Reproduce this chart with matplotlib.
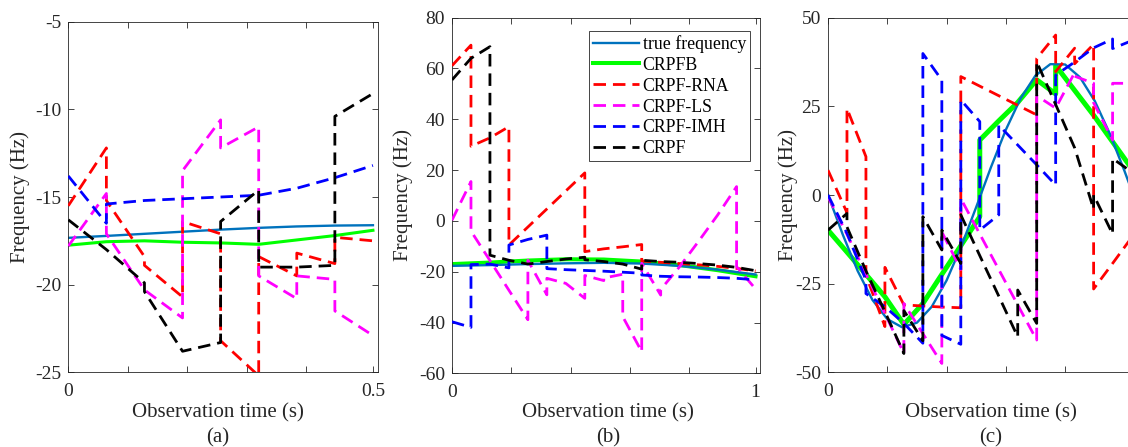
import matplotlib
matplotlib.use("Agg")
import matplotlib.pyplot as plt

plt.rcParams['font.family'] = ['Liberation Serif', 'DejaVu Serif']
plt.rcParams['axes.unicode_minus'] = False

SEG = 0.064  # length of one estimation block (s)

# ---------------- panel (a) ----------------
a_true_t = [0, 0.064, 0.128, 0.192, 0.256, 0.32, 0.384, 0.448, 0.512]
a_true_f = [-17.33, -17.22, -17.1, -16.98, -16.86, -16.76, -16.68, -16.63, -16.61]
a_crpfb_f = [-17.75, -17.55, -17.5, -17.58, -17.62, -17.7, -17.45, -17.2, -16.9]
a_rna_start = [-15.5, -15.2, -18.9, -16.4, -23.2, -18.4, -18.2, -17.3]
a_rna_end = [-12.2, -18.4, -20.7, -17.1, -25.2, -19.5, -18.8, -17.5]
a_ls_start = [-17.8, -17.1, -20.3, -13.5, -12.2, -19.5, -19.5, -21.5]
a_ls_end = [-14.8, -20.3, -21.9, -10.6, -11.0, -20.8, -19.7, -22.9]
a_imh_start = [-13.8, -15.4, -15.2, -15.1, -15.0, -14.9, -14.5, -13.9]
a_imh_end = [-16.5, -15.2, -15.1, -15.0, -14.9, -14.5, -13.9, -13.2]
a_crpf_start = [-16.3, -18.0, -20.4, -23.8, -16.4, -19.0, -19.0, -10.4]
a_crpf_end = [-18.0, -19.9, -23.8, -23.3, -14.6, -19.0, -18.9, -9.1]

# ---------------- panel (b) ----------------
b_true_t = [0, 0.128, 0.256, 0.384, 0.512, 0.64, 0.768, 0.896, 1.024]
b_true_f = [-17.7, -17.4, -17.0, -16.7, -16.5, -16.8, -17.7, -19.2, -21.1]
b_crpfb_f = [-17.0, -16.4, -15.6, -15.1, -15.2, -16.0, -17.4, -19.4, -21.8]
b_rna_start = [61.1, 29.4, 32.7, -9.5, -2.4, 4.7, 11.8, -12.1, -11.0, -10.2,
               -15.8, -16.3, -16.8, -17.3, -17.9, -18.7]
b_rna_end = [69.2, 32.7, 37.1, -2.4, 4.7, 11.8, 18.9, -11.0, -10.2, -9.3,
             -16.3, -16.8, -17.3, -17.9, -18.7, -19.7]
b_ls_start = [0.3, -4.0, -15.6, -27.3, -15.5, -22.6, -24.6, -21.5, -22.5, -37.7,
              -16.7, -27.0, -18.0, -8.0, 2.3, -18.0]
b_ls_end = [15.5, -15.6, -27.3, -38.9, -29.1, -24.6, -30.5, -23.5, -21.0, -51.5,
            -29.2, -18.0, -8.0, 2.3, 13.5, -26.8]
b_imh_start = [-39.7, -17.2, -17.0, -9.5, -7.3, -18.8, -19.2, -19.5, -19.8, -20.2,
               -21.3, -21.8, -22.0, -22.1, -22.3, -22.6]
b_imh_end = [-41.9, -17.0, -18.5, -7.3, -5.6, -19.2, -19.5, -19.8, -20.2, -20.6,
             -21.8, -22.0, -22.1, -22.3, -22.6, -23.2]
b_crpf_start = [55.5, 64.0, -13.5, -15.5, -17.0, -16.0, -15.0, -15.3, -16.0, -17.0,
                -15.5, -16.0, -16.3, -16.8, -17.4, -18.3]
b_crpf_end = [64.0, 68.6, -15.5, -17.0, -16.0, -15.0, -14.3, -16.0, -17.0, -19.0,
              -16.0, -16.3, -16.8, -17.4, -18.3, -19.6]

# ---------------- panel (c) ----------------
c_true_t = [0, 0.05, 0.1, 0.15, 0.2, 0.25, 0.3, 0.35, 0.4, 0.45, 0.5, 0.55,
            0.6, 0.65, 0.7, 0.75, 0.8, 0.85, 0.9, 0.95, 1.0, 1.024]
c_true_f = [0, -11.2, -21.4, -29.6, -35.0, -37.3, -36.0, -31.5, -24.1, -14.4, -3.4, 7.9,
            18.4, 27.3, 33.7, 36.9, 36.8, 33.2, 26.5, 17.4, 6.8, 1.4]
c_crpfb_t = [0, 0.064, 0.128, 0.192, 0.256, 0.32, 0.384, 0.448, 0.512, 0.512,
             0.576, 0.64, 0.704, 0.768, 0.768, 0.832, 0.896, 0.96, 1.024]
c_crpfb_f = [-9.9, -16.1, -22.4, -28.7, -36.5, -30.6, -22.4, -14.3, -6.1, 15.5,
             20.9, 26.1, 32.5, 28.5, 36.5, 29.5, 22.5, 15.0, 7.5]
c_rna_start = [7.0, 24.4, -22.6, -20.4, -31.0, -31.3, -31.6, 33.4, 30.7, 28.0,
               25.3, 38.5, 34.8, 37.0, -26.5, -19.3]
c_rna_end = [-5.0, 10.8, -37.1, -31.0, -31.3, -31.6, -31.8, 30.7, 28.0, 25.3,
             22.6, 45.1, 41.4, 42.5, -19.3, -12.0]
c_ls_start = [-0.5, -11.1, -22.3, -33.4, -30.6, -39.1, -10.4, -1.0, -11.0, -21.0,
              -31.0, 28.0, 24.5, 33.5, 26.0, 31.5]
c_ls_end = [-11.1, -22.3, -33.4, -44.7, -39.1, -47.5, -21.0, -11.0, -21.0, -31.0,
            -40.9, 24.5, 34.5, 31.5, 15.5, 31.5]
c_imh_start = [0.0, -10.8, -27.8, -31.5, -36.2, 39.9, -39.6, 26.8, -9.9, 19.7,
               14.1, 8.5, 33.8, 37.5, 41.5, 41.3]
c_imh_end = [-10.8, -24.0, -31.5, -36.2, -41.8, 32.4, -42.1, 20.7, -5.6, 14.1,
             8.5, 2.8, 37.5, 41.5, 44.0, 43.5]
c_crpf_start = [-9.9, -9.0, -21.4, -32.9, -32.6, -6.1, -9.9, -5.6, -17.1, -28.5,
                -26.8, 37.6, 25.5, 13.3, 0.0, 10.3]
c_crpf_end = [-5.2, -21.4, -32.9, -44.7, -41.1, -15.5, -19.3, -17.1, -28.5, -40.0,
              -36.2, 25.5, 13.3, -4.0, -11.0, 6.5]

legend_labels = ['true frequency', 'CRPFB', 'CRPF-RNA', 'CRPF-LS', 'CRPF-IMH', 'CRPF']
panel_labels = ['(a)', '(b)', '(c)']
x_label = 'Observation time (s)'
y_label = 'Frequency (Hz)'

C_TRUE = '#0072BD'
C_B = '#00FF00'
C_RNA = '#FF0000'
C_LS = '#FF00FF'
C_IMH = '#0000FF'
C_CRPF = '#000000'
SPINE = '#262626'


def blocks(starts, ends, dt=SEG):
    t, f = [], []
    for k, (s, e) in enumerate(zip(starts, ends)):
        t += [k * dt, (k + 1) * dt]
        f += [s, e]
    return t, f


W, H = 1128, 447
fig = plt.figure(figsize=(W / 100, H / 100), dpi=100)

specs = [
    dict(rect=[68.3, 74.7, 309.4, 350.6], xlim=(0, 0.52), ylim=(-25, -5),
         yticks=[-25, -20, -15, -10, -5],
         xticks=[0, 0.1, 0.2, 0.3, 0.4, 0.512], xtl=['0', '', '', '', '', '0.5'],
         true=(a_true_t, a_true_f), crpfb=(a_true_t, a_crpfb_f),
         rna=(a_rna_start, a_rna_end), ls=(a_ls_start, a_ls_end),
         imh=(a_imh_start, a_imh_end), crpf=(a_crpf_start, a_crpf_end),
         gw=2.2, xl=218, yl=20),
    dict(rect=[452, 73.7, 308.3, 355.6], xlim=(0, 1.04), ylim=(-60, 80),
         yticks=[-60, -40, -20, 0, 20, 40, 60, 80],
         xticks=[0, 0.2, 0.4, 0.6, 0.8, 1.024], xtl=['0', '', '', '', '', '1'],
         true=(b_true_t, b_true_f), crpfb=(b_true_t, b_crpfb_f),
         rna=(b_rna_start, b_rna_end), ls=(b_ls_start, b_ls_end),
         imh=(b_imh_start, b_imh_end), crpf=(b_crpf_start, b_crpf_end),
         gw=2.9, xl=608, yl=403),
    # the right part of panel (c) lies outside the picture, as in the reference
    dict(rect=[828, 74.7, 308.3, 354.6], xlim=(0, 1.04), ylim=(-50, 50),
         yticks=[-50, -25, 0, 25, 50],
         xticks=[0, 0.2, 0.4, 0.6, 0.8, 1.024], xtl=['0', '', '', '', '', ''],
         true=(c_true_t, c_true_f), crpfb=(c_crpfb_t, c_crpfb_f),
         rna=(c_rna_start, c_rna_end), ls=(c_ls_start, c_ls_end),
         imh=(c_imh_start, c_imh_end), crpf=(c_crpf_start, c_crpf_end),
         gw=3.6, xl=991, yl=788),
]

DASH = (4.5, 2.5)
for i, sp in enumerate(specs):
    l, b, w, h = sp['rect']
    ax = fig.add_axes([l / W, b / H, w / W, h / H])
    handles = []
    handles += ax.plot(*sp['true'], color=C_TRUE, lw=1.7, zorder=2.5)
    handles += ax.plot(*sp['crpfb'], color=C_B, lw=sp['gw'], zorder=2.2)
    for key, col in (('rna', C_RNA), ('ls', C_LS), ('imh', C_IMH), ('crpf', C_CRPF)):
        t, f = blocks(*sp[key])
        ln, = ax.plot(t, f, color=col, lw=2.0, dashes=DASH, dash_capstyle='butt',
                      zorder=3)
        handles.append(ln)
    ax.set_xlim(*sp['xlim'])
    ax.set_ylim(*sp['ylim'])
    ax.set_xticks(sp['xticks'])
    ax.set_xticklabels(sp['xtl'])
    ax.set_yticks(sp['yticks'])
    ax.tick_params(direction='in', top=True, right=True, length=4, width=0.6,
                   color=SPINE, labelsize=14, labelcolor='#262626')
    ax.tick_params(axis='x', pad=8)
    ax.tick_params(axis='y', pad=5)
    for s in ax.spines.values():
        s.set_color(SPINE)
        s.set_linewidth(0.6)
    ax.set_xlabel(x_label, fontsize=15, color='#262626', va='center')
    ax.xaxis.set_label_coords((sp['xl'] - l) / w, -(413 - (H - b)) / h)
    ax.set_ylabel(y_label, fontsize=15, color='#262626', va='center')
    ax.yaxis.set_label_coords((sp['yl'] - l) / w, 0.5)
    fig.text(sp['xl'] / W, 1 - 438 / H, panel_labels[i], fontsize=15,
             ha='center', va='center', color='#262626')
    if i == 1:
        leg = ax.legend(handles, legend_labels, loc='upper right',
                        bbox_to_anchor=((750 - l) / w, 1 - (31 - (H - b - h)) / h),
                        fontsize=12.8, frameon=True, fancybox=False, framealpha=1,
                        edgecolor=SPINE, borderpad=0.22, labelspacing=0.22,
                        handletextpad=0.2, handlelength=2.6, borderaxespad=0)
        leg.get_frame().set_linewidth(0.6)

fig.savefig('out.png', dpi=100)
